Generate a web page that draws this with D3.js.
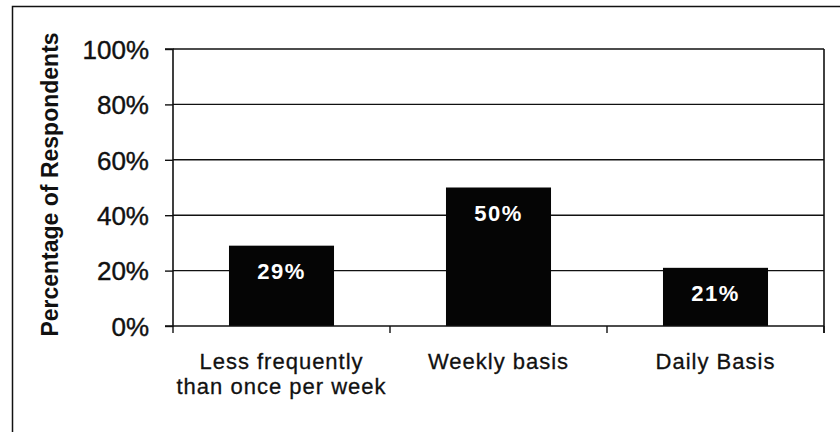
<!DOCTYPE html>
<html>
<head>
<meta charset="utf-8">
<script src="https://cdn.jsdelivr.net/npm/d3@7"></script>
<style>
  html, body { margin: 0; padding: 0; background: #fff; }
  svg { display: block; font-family: "Liberation Sans", Arial, sans-serif; }
</style>
</head>
<body>
<svg id="chart" width="840" height="432"></svg>
<script>
// Survey answers: how often respondents do it
const categories = [
  ["Less frequently", "than once per week"],
  ["Weekly basis"],
  ["Daily Basis"]
];
const values = [29, 50, 21];
const yTicks = [0, 20, 40, 60, 80, 100];
const yTitle = "Percentage of Respondents";

const svg = d3.select("#chart");
const margin = { left: 173, right: 16, top: 49, bottom: 106 };
const W = 840, H = 432;
const x0 = margin.left, x1 = W - margin.right;
const y0 = H - margin.bottom, y1 = margin.top;
const ink = "#111";

const x = d3.scaleBand()
  .domain(d3.range(categories.length))
  .range([x0, x1])
  .paddingInner(0.516)
  .paddingOuter(0.258);

const y = d3.scaleLinear().domain([0, 100]).range([y0, y1]);

// outer chart frame (left and top edges)
svg.append("path")
  .attr("d", `M12.5,432 L12.5,6.5 L840,6.5`)
  .attr("fill", "none")
  .attr("stroke", ink)
  .attr("stroke-width", 1.5);

// horizontal gridlines
svg.append("g")
  .selectAll("line")
  .data(yTicks.filter(d => d > 0))
  .join("line")
  .attr("x1", x0).attr("x2", x1)
  .attr("y1", d => y(d)).attr("y2", d => y(d))
  .attr("stroke", ink)
  .attr("stroke-width", 1.4);

// right border of the plot area
svg.append("line")
  .attr("x1", x1).attr("x2", x1)
  .attr("y1", y1).attr("y2", y0 + 7)
  .attr("stroke", ink).attr("stroke-width", 1.6);

// bars
svg.append("g")
  .selectAll("rect")
  .data(values)
  .join("rect")
  .attr("x", (d, i) => x(i))
  .attr("width", x.bandwidth())
  .attr("y", d => y(d))
  .attr("height", d => y(0) - y(d))
  .attr("fill", "#050505");

// value labels inside the bar tops
svg.append("g")
  .selectAll("text")
  .data(values)
  .join("text")
  .attr("x", (d, i) => x(i) + x.bandwidth() / 2)
  .attr("y", d => y(d) + 33)
  .attr("text-anchor", "middle")
  .attr("fill", "#fff")
  .attr("font-weight", "bold")
  .attr("font-size", 22)
  .attr("letter-spacing", 1.5)
  .text(d => d + "%");

// y axis
const yAxis = d3.axisLeft(y)
  .tickValues(yTicks)
  .tickFormat(d => d + "%")
  .tickSize(8)
  .tickPadding(16);
const gy = svg.append("g")
  .attr("transform", `translate(${x0},0)`)
  .call(yAxis);
gy.select(".domain").attr("stroke", ink).attr("stroke-width", 1.6).attr("d", `M-8,${y1}H0V${y0}H-8`);
gy.selectAll(".tick line").attr("stroke", ink).attr("stroke-width", 1.4);
gy.selectAll(".tick text")
  .attr("font-size", 26)
  .attr("font-family", "'Liberation Sans', Arial, sans-serif")
  .attr("fill", ink)
  .attr("stroke", ink)
  .attr("stroke-width", 0.4)
  .attr("dy", "0.36em");

// x axis: ticks at category boundaries
const boundaries = d3.range(categories.length + 1).map(i =>
  i < categories.length ? x(i) - x.step() * x.paddingInner() / 2 : x1);
const gx = svg.append("g");
gx.append("line")
  .attr("x1", x0).attr("x2", x1)
  .attr("y1", y0).attr("y2", y0)
  .attr("stroke", ink).attr("stroke-width", 1.6);
gx.selectAll("line.tick")
  .data(boundaries)
  .join("line")
  .attr("class", "tick")
  .attr("x1", d => d).attr("x2", d => d)
  .attr("y1", y0).attr("y2", y0 + 7)
  .attr("stroke", ink).attr("stroke-width", 1.4);

// category labels
const labels = gx.selectAll("text")
  .data(categories)
  .join("text")
  .attr("text-anchor", "middle")
  .attr("font-size", 22)
  .attr("letter-spacing", 1)
  .attr("fill", ink)
  .attr("stroke", ink)
  .attr("stroke-width", 0.3)
  .attr("transform", (d, i) => `translate(${x(i) + x.bandwidth() / 2},369)`);
labels.selectAll("tspan")
  .data(d => d)
  .join("tspan")
  .attr("x", 0)
  .attr("y", (d, i) => i * 25)
  .text(d => d);

// y axis title
svg.append("text")
  .attr("transform", `translate(58,${(33 + 336) / 2}) rotate(-90)`)
  .attr("text-anchor", "middle")
  .attr("font-weight", "bold")
  .attr("font-size", 23)
  .attr("fill", ink)
  .text(yTitle);
</script>
</body>
</html>
